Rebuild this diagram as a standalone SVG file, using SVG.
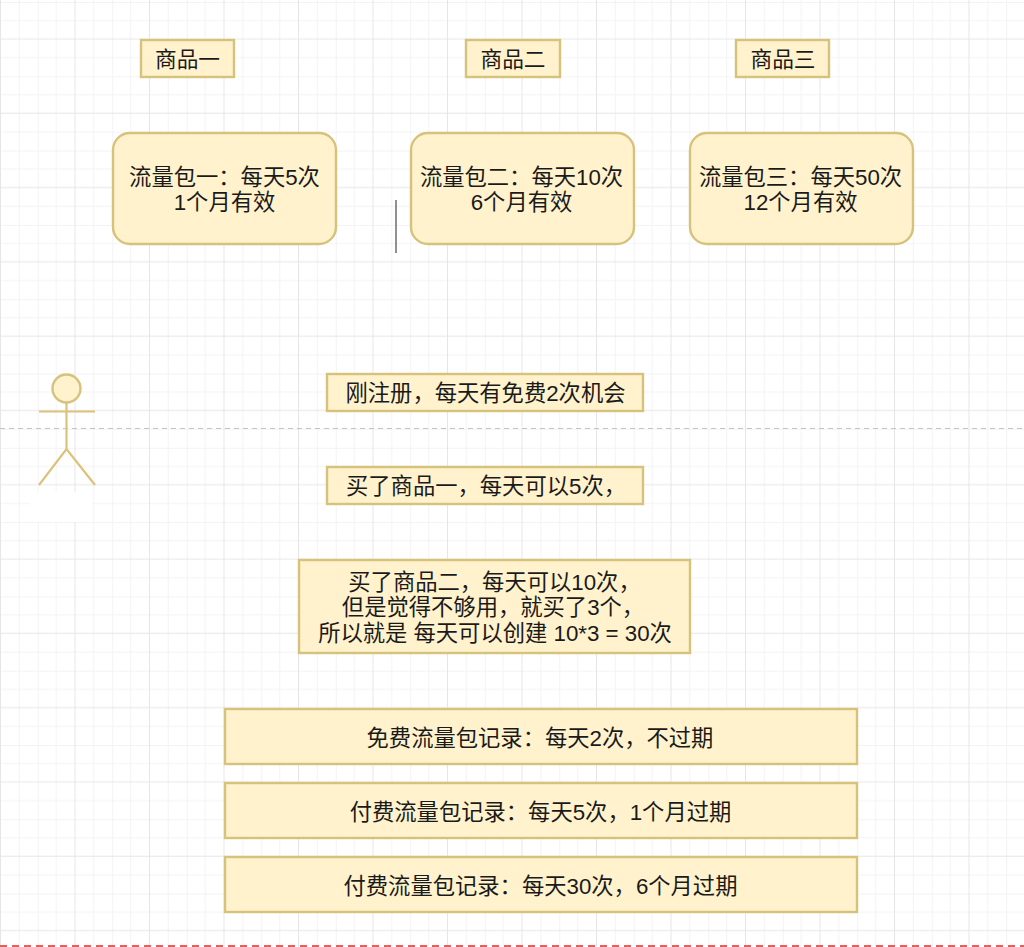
<svg xmlns="http://www.w3.org/2000/svg" width="1024" height="947" viewBox="0 0 1024 947">
<style>
.b{fill:#fff2cc;stroke:#d6c27a;stroke-width:2.400}
.r{fill:#fff2cc;stroke:#d6c27a;stroke-width:2.400}
.a{fill:none;stroke:#dcc27a;stroke-width:2.200}
text{font-family:"Liberation Sans","Noto Sans CJK SC",sans-serif;font-size:22.300px;fill:#1a1a1a;text-anchor:middle}
.t{font-size:21.700px}
</style>
<defs>
<pattern id="g" x="37.750" y="2" width="74.500" height="74.300" patternUnits="userSpaceOnUse">
<path d="M18.600 0V74.300M55.900 0V74.300M0 .5H74.500M0 18.600H74.500M0 55.700H74.500M.5 0V74.300" stroke="#f3f3f5" stroke-width="1" fill="none"/>
<path d="M37.250 0V74.300M0 37H74.500" stroke="#e6e6ea" stroke-width="1" fill="none"/>
</pattern>
</defs>
<rect width="1024" height="947" fill="#fff"/>
<rect width="1024" height="947" fill="url(#g)"/>
<rect x="30" y="492" width="62" height="30" fill="#fff"/>
<g id="conn">
<line x1="396" y1="200" x2="396" y2="253" stroke="#55565a" stroke-width="1.300"/>
<line x1="0" y1="428.500" x2="1024" y2="428.500" stroke="#c4c4c4" stroke-width="1" stroke-dasharray="5 4"/>
<line x1="0" y1="946" x2="1024" y2="946" stroke="#e0615f" stroke-width="2" stroke-dasharray="7 5"/>
</g>
<g id="p1"><rect class="b" x="141" y="40" width="93" height="37"/><text class="t" x="187.500" y="67">商品一</text></g>
<g id="p2"><rect class="b" x="466" y="40" width="94" height="37"/><text class="t" x="513" y="67">商品二</text></g>
<g id="p3"><rect class="b" x="736" y="40" width="93" height="37"/><text class="t" x="783" y="67">商品三</text></g>
<g id="pkg1"><rect class="r" x="113" y="133" width="223" height="111" rx="17"/><text x="224.500" y="185">流量包一：每天5次</text><text x="224.500" y="210">1个月有效</text></g>
<g id="pkg2"><rect class="r" x="411" y="133" width="223" height="111" rx="17"/><text x="521.500" y="185">流量包二：每天10次</text><text x="521.500" y="210">6个月有效</text></g>
<g id="pkg3"><rect class="r" x="690" y="133" width="223" height="111" rx="17"/><text x="800.500" y="185">流量包三：每天50次</text><text x="800.500" y="210">12个月有效</text></g>
<g id="actor">
<circle class="r" cx="66.500" cy="388.500" r="14"/>
<path class="a" d="M66.500 402.500V449M39 411.500H95M39 485L66.500 449L95 485"/>
</g>
<g id="s1"><rect class="b" x="327" y="374" width="316" height="37"/><text x="485.500" y="401">刚注册，每天有免费2次机会</text></g>
<g id="s2"><rect class="b" x="327" y="467" width="316" height="37"/><text x="486" y="494">买了商品一，每天可以5次，</text></g>
<g id="s3"><rect class="b" x="299" y="560" width="391" height="93"/><text x="494.500" y="590">买了商品二，每天可以10次，</text><text x="493" y="615">但是觉得不够用，就买了3个，</text><text x="495" y="641">所以就是 每天可以创建 10*3 = 30次</text></g>
<g id="r1"><rect class="b" x="225" y="709" width="632" height="55"/><text x="540" y="746">免费流量包记录：每天2次，不过期</text></g>
<g id="r2"><rect class="b" x="225" y="783" width="632" height="55"/><text x="540.500" y="820">付费流量包记录：每天5次，1个月过期</text></g>
<g id="r3"><rect class="b" x="225" y="857" width="632" height="55"/><text x="540.500" y="894">付费流量包记录：每天30次，6个月过期</text></g>
</svg>
